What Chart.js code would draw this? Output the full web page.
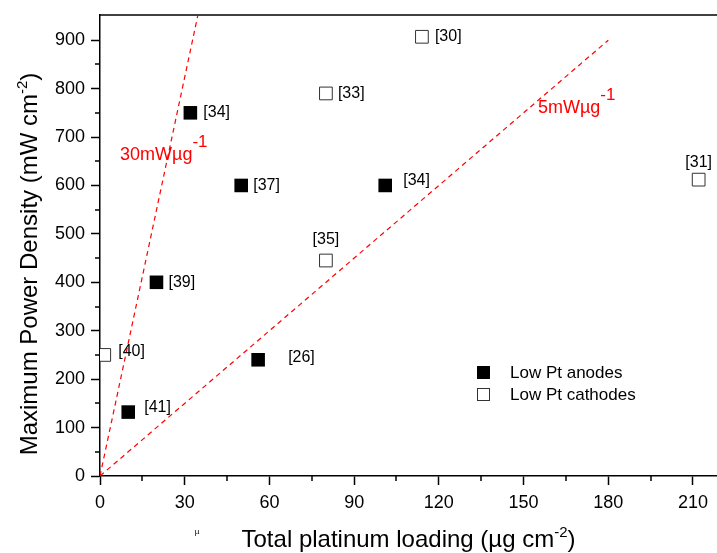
<!DOCTYPE html>
<html>
<head>
<meta charset="utf-8">
<script src="https://cdn.jsdelivr.net/npm/chart.js@4.4.1/dist/chart.umd.min.js"></script>
<style>
  html, body { margin: 0; padding: 0; background: #fff; }
  #wrap { width: 717px; height: 553px; }
</style>
</head>
<body>
<div id="wrap"><canvas id="chart" width="717" height="553"></canvas></div>
<script>
// data
const anodeX = [32, 50, 101, 20, 56, 10];
const anodeY = [750, 600, 600, 400, 240, 132];
const anodeRefs = ['[34]', '[37]', '[34]', '[39]', '[26]', '[41]'];

const cathodeX = [114, 80, 80, 212, 1.5];
const cathodeY = [907, 790, 445, 612, 250];
const cathodeRefs = ['[30]', '[33]', '[35]', '[31]', '[40]'];

const steepLineX = [0, 34.6];
const steepLineY = [0, 950];
const shallowLineX = [0, 180];
const shallowLineY = [0, 900];
const lineLabels = ['30mW\u00b5g', '5mW\u00b5g'];

const xTicks = [0, 30, 60, 90, 120, 150, 180, 210];
const yTicks = [0, 100, 200, 300, 400, 500, 600, 700, 800, 900];
const xMinor = [15, 45, 75, 105, 135, 165, 195];
const yMinor = [50, 150, 250, 350, 450, 550, 650, 750, 850];

const seriesNames = ['Low Pt anodes', 'Low Pt cathodes'];

// label placement (dx, dy, align) per point
const anodeLabelPos = [[13, 0, 'left'], [12, 0, 'left'], [18, -5, 'left'], [12, 0, 'left'], [30, -2, 'left'], [16, -4, 'left']];
const cathodeLabelPos = [[13, 0, 'left'], [12, 0, 'left'], [0, -21, 'center'], [0, -17, 'center'], [14, -3, 'left']];

const FONT = "'Liberation Sans', Arial, sans-serif";
const toPoints = (xs, ys) => xs.map((x, i) => ({ x: x, y: ys[i] }));

function drawParts(ctx, parts, x, y, align) {
    // parts: [text, size, raise]
    let total = 0;
    parts.forEach(p => { ctx.font = p[1] + 'px ' + FONT; total += ctx.measureText(p[0]).width; });
    let cx = align === 'center' ? x - total / 2 : x;
    ctx.textAlign = 'left';
    parts.forEach(p => {
        ctx.font = p[1] + 'px ' + FONT;
        ctx.fillText(p[0], cx, y - p[2]);
        cx += ctx.measureText(p[0]).width;
    });
}

const extras = {
    id: 'extras',
    afterDraw(chart) {
        const ctx = chart.ctx;
        const area = chart.chartArea;
        const xs = chart.scales.x, ys = chart.scales.y;
        ctx.save();

        // top frame line
        ctx.strokeStyle = '#000';
        ctx.lineWidth = 1.5;
        ctx.beginPath();
        ctx.moveTo(area.left, area.top);
        ctx.lineTo(area.right, area.top);
        ctx.stroke();

        // minor ticks
        ctx.beginPath();
        xMinor.forEach(v => {
            const px = Math.round(xs.getPixelForValue(v));
            ctx.moveTo(px, area.bottom);
            ctx.lineTo(px, area.bottom + 5);
        });
        yMinor.forEach(v => {
            const py = Math.round(ys.getPixelForValue(v));
            ctx.moveTo(area.left, py);
            ctx.lineTo(area.left - 5, py);
        });
        ctx.stroke();

        // point labels
        ctx.fillStyle = '#000';
        ctx.font = '16px ' + FONT;
        ctx.textBaseline = 'middle';
        const label = (X, Y, refs, pos) => {
            refs.forEach((t, i) => {
                const px = xs.getPixelForValue(X[i]);
                const py = ys.getPixelForValue(Y[i]);
                ctx.textAlign = pos[i][2];
                ctx.fillText(t, px + pos[i][0], py + pos[i][1]);
            });
        };
        label(anodeX, anodeY, anodeRefs, anodeLabelPos);
        label(cathodeX, cathodeY, cathodeRefs, cathodeLabelPos);

        // slope labels
        ctx.fillStyle = '#ff0000';
        ctx.textBaseline = 'alphabetic';
        drawParts(ctx, [[lineLabels[0], 18, 0], ['-1', 17, 13]], xs.getPixelForValue(7.1), ys.getPixelForValue(653), 'left');
        drawParts(ctx, [[lineLabels[1], 18, 0], ['-1', 17, 13]], xs.getPixelForValue(155.1), ys.getPixelForValue(750), 'left');

        // legend
        ctx.fillStyle = '#000';
        ctx.fillRect(477, 366, 13, 13);
        ctx.fillStyle = '#fff';
        ctx.strokeStyle = '#333';
        ctx.lineWidth = 1;
        ctx.fillRect(477.5, 388.5, 12, 12);
        ctx.strokeRect(477.5, 388.5, 12, 12);
        ctx.fillStyle = '#000';
        ctx.font = '17px ' + FONT;
        ctx.textAlign = 'left';
        ctx.textBaseline = 'middle';
        ctx.fillText(seriesNames[0], 510, 373);
        ctx.fillText(seriesNames[1], 510, 395);

        // axis titles
        ctx.textBaseline = 'alphabetic';
        drawParts(ctx, [['Total platinum loading (\u00b5g cm', 24, 0], ['-2', 15, 10], [')', 24, 0]], (area.left + area.right) / 2, 547, 'center');
        ctx.save();
        ctx.translate(37, 264);
        ctx.rotate(-Math.PI / 2);
        drawParts(ctx, [['Maximum Power Density (mW cm', 24, 0], ['-2', 15, 10], [')', 24, 0]], 0, 0, 'center');
        ctx.restore();

        // stray glyph in the original
        ctx.font = '8px ' + FONT;
        ctx.textAlign = 'center';
        ctx.fillText('\u00b5', 197, 534);

        ctx.restore();
    }
};

new Chart(document.getElementById('chart'), {
    type: 'scatter',
    data: {
        datasets: [
            {
                label: seriesNames[0],
                data: toPoints(anodeX, anodeY),
                pointStyle: 'rect',
                pointRadius: 9.6,
                pointHoverRadius: 9.6,
                backgroundColor: '#000',
                borderColor: '#000',
                borderWidth: 0
            },
            {
                label: seriesNames[1],
                data: toPoints(cathodeX, cathodeY),
                pointStyle: 'rect',
                pointRadius: 9,
                pointHoverRadius: 9,
                backgroundColor: '#fff',
                borderColor: '#333',
                borderWidth: 1
            },
            {
                label: lineLabels[0],
                data: toPoints(steepLineX, steepLineY),
                showLine: true,
                pointRadius: 0,
                borderColor: '#ff0000',
                borderWidth: 1.2,
                borderDash: [5, 4]
            },
            {
                label: lineLabels[1],
                data: toPoints(shallowLineX, shallowLineY),
                showLine: true,
                pointRadius: 0,
                borderColor: '#ff0000',
                borderWidth: 1.2,
                borderDash: [5, 4]
            }
        ]
    },
    options: {
        responsive: false,
        animation: false,
        devicePixelRatio: 1,
        layout: { autoPadding: false, padding: { top: 15, right: 0, left: 0, bottom: 0 } },
        plugins: {
            legend: { display: false },
            tooltip: { enabled: false }
        },
        scales: {
            x: {
                type: 'linear',
                min: 0,
                max: 218.5,
                afterBuildTicks: s => { s.ticks = xTicks.map(v => ({ value: v })); },
                afterFit: s => { s.height = 77; s.paddingLeft = 0; s.paddingRight = 0; },
                ticks: {
                    color: '#000',
                    font: { size: 18, family: FONT },
                    padding: 7,
                    maxRotation: 0
                },
                grid: {
                    drawOnChartArea: false,
                    tickLength: 9,
                    tickWidth: 1.5,
                    tickColor: '#000'
                },
                border: { color: '#000', width: 1.5 }
            },
            y: {
                type: 'linear',
                min: 0,
                max: 952,
                afterBuildTicks: s => { s.ticks = yTicks.map(v => ({ value: v })); },
                afterFit: s => { s.width = 100; s.paddingTop = 0; s.paddingBottom = 0; },
                ticks: {
                    color: '#000',
                    font: { size: 18, family: FONT },
                    padding: 6
                },
                grid: {
                    drawOnChartArea: false,
                    tickLength: 9,
                    tickWidth: 1.5,
                    tickColor: '#000'
                },
                border: { color: '#000', width: 1.5 }
            }
        }
    },
    plugins: [extras]
});
</script>
</body>
</html>
